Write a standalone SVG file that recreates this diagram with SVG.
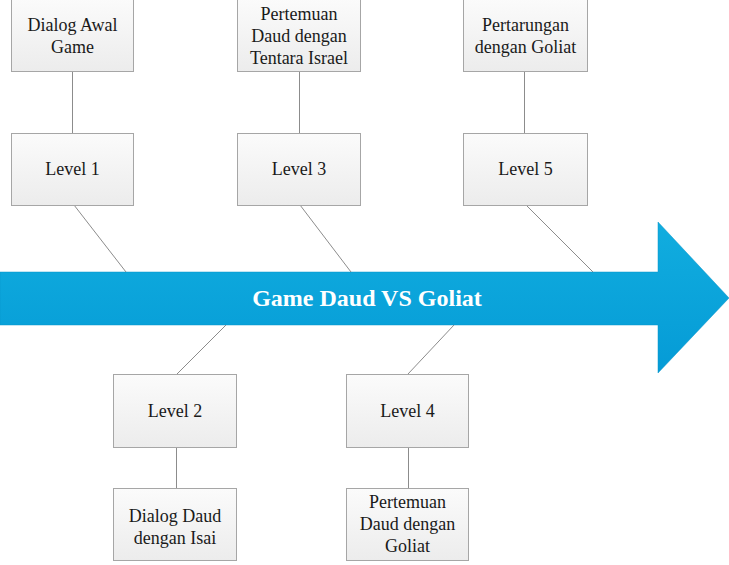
<svg xmlns="http://www.w3.org/2000/svg" width="729" height="565" viewBox="0 0 729 565">
<style>
text{font-family:"Times New Roman","Liberation Serif","Noto Serif","DejaVu Serif",serif}
.box{fill:url(#bg);stroke:#a6a6a6;stroke-width:1}
.lbl{font-size:18px;fill:#1a1a1a;text-anchor:middle}
.con{stroke:#8c8c8c;stroke-width:1;fill:none}
.title{font-size:24px;font-weight:bold;fill:#ffffff;text-anchor:middle}
</style>
<defs>
<linearGradient id="bg" x1="0" y1="0" x2="0" y2="1">
<stop offset="0" stop-color="#fbfbfb"/>
<stop offset="1" stop-color="#ececec"/>
</linearGradient>
<linearGradient id="ag" x1="0" y1="0" x2="0" y2="1">
<stop offset="0" stop-color="#11addf"/>
<stop offset="1" stop-color="#059bd6"/>
</linearGradient>
</defs>
<rect width="729" height="565" fill="#ffffff"/>
<g id="arrow">
<polygon points="0,272 658,272 658,222 729,298 658,373 658,325 0,325" fill="url(#ag)" stroke="#0a95c9" stroke-width="0.5"/>
<text class="title" x="367" y="306">Game Daud VS Goliat</text>
</g>
<g id="connectors">
<line class="con" x1="72.5" y1="72" x2="72.5" y2="133"/>
<line class="con" x1="299.5" y1="72" x2="299.5" y2="133"/>
<line class="con" x1="524.5" y1="72" x2="524.5" y2="133"/>
<line class="con" x1="74" y1="205" x2="126" y2="272"/>
<line class="con" x1="300" y1="205" x2="351" y2="272"/>
<line class="con" x1="526" y1="205" x2="593" y2="272"/>
<line class="con" x1="177" y1="374" x2="226" y2="325"/>
<line class="con" x1="408" y1="374" x2="454" y2="325"/>
<line class="con" x1="176.5" y1="448" x2="176.5" y2="488"/>
<line class="con" x1="408.5" y1="448" x2="408.5" y2="488"/>
</g>
<g id="n-dialog-awal">
<rect class="box" x="11.5" y="-1.5" width="122" height="73"/>
<text class="lbl" x="72.5" y="31">Dialog Awal</text>
<text class="lbl" x="72.5" y="53">Game</text>
</g>
<g id="n-level1">
<rect class="box" x="11.5" y="133.5" width="122" height="72"/>
<text class="lbl" x="72.5" y="175">Level 1</text>
</g>
<g id="n-pertemuan-tentara">
<rect class="box" x="237.5" y="-1.5" width="123" height="73"/>
<text class="lbl" x="299" y="20">Pertemuan</text>
<text class="lbl" x="299" y="42">Daud dengan</text>
<text class="lbl" x="299" y="64">Tentara Israel</text>
</g>
<g id="n-level3">
<rect class="box" x="237.5" y="133.5" width="123" height="72"/>
<text class="lbl" x="299" y="175">Level 3</text>
</g>
<g id="n-pertarungan">
<rect class="box" x="463.5" y="-1.5" width="124" height="73"/>
<text class="lbl" x="525.5" y="31">Pertarungan</text>
<text class="lbl" x="525.5" y="53">dengan Goliat</text>
</g>
<g id="n-level5">
<rect class="box" x="463.5" y="133.5" width="124" height="72"/>
<text class="lbl" x="525.5" y="175">Level 5</text>
</g>
<g id="n-level2">
<rect class="box" x="113.5" y="374.5" width="123" height="73"/>
<text class="lbl" x="175" y="417">Level 2</text>
</g>
<g id="n-dialog-isai">
<rect class="box" x="113.5" y="488.5" width="123" height="72"/>
<text class="lbl" x="175" y="522">Dialog Daud</text>
<text class="lbl" x="175" y="544">dengan Isai</text>
</g>
<g id="n-level4">
<rect class="box" x="346.5" y="374.5" width="122" height="73"/>
<text class="lbl" x="407.5" y="417">Level 4</text>
</g>
<g id="n-pertemuan-goliat">
<rect class="box" x="346.5" y="488.5" width="122" height="72"/>
<text class="lbl" x="407.5" y="508">Pertemuan</text>
<text class="lbl" x="407.5" y="530">Daud dengan</text>
<text class="lbl" x="407.5" y="552">Goliat</text>
</g>
</svg>
